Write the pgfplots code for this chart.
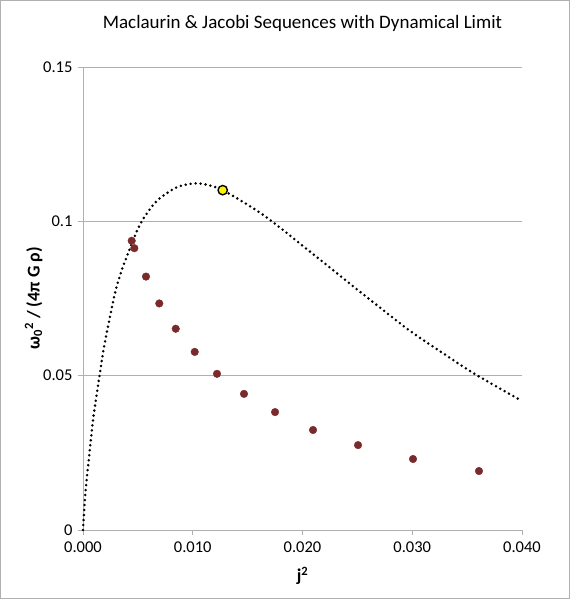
\documentclass[border=0pt]{standalone}
\usepackage{pgfplots}
\pgfplotsset{compat=1.18}
\usepackage{fontspec}
\setmainfont{Carlito}

\definecolor{jacobired}{HTML}{7A2A2A}
\definecolor{gridgray}{HTML}{B0B0B0}

% Maclaurin sequence
\pgfplotstableread{
x       y
0.00000 0.0000
0.00018 0.0103
0.00036 0.0173
0.00055 0.0237
0.00073 0.0297
0.00091 0.0356
0.00115 0.0416
0.00140 0.0475
0.00190 0.0590
0.00246 0.0691
0.00290 0.0765
0.00337 0.0825
0.00398 0.0885
0.00520 0.0990
0.00670 0.1065
0.00854 0.1110
0.01020 0.1123
0.01150 0.1117
0.01273 0.1101
0.01430 0.1069
0.01613 0.1028
0.01765 0.0988
0.02068 0.0902
0.02372 0.0815
0.02676 0.0729
0.02980 0.0645
0.03283 0.0572
0.03572 0.0505
0.04000 0.0418
}\maclaurin

% Jacobi sequence
\pgfplotstableread{
x       y
0.00444 0.0937
0.00468 0.0913
0.00574 0.0821
0.00695 0.0734
0.00845 0.0652
0.01018 0.0577
0.01221 0.0506
0.01467 0.0441
0.01750 0.0382
0.02096 0.0324
0.02506 0.0275
0.03007 0.0230
0.03608 0.0191
}\jacobi

\begin{document}
\begin{tikzpicture}
\begin{axis}[
    scale only axis,
    width=439pt, height=463pt,
    xmin=0, xmax=0.04,
    ymin=0, ymax=0.15,
    xtick={0,0.01,0.02,0.03,0.04},
    xticklabels={0.000,0.010,0.020,0.030,0.040},
    ytick={0,0.05,0.1,0.15},
    yticklabels={0,0.05,0.1,0.15},
    scaled ticks=false,
    axis x line*=bottom,
    axis y line*=left,
    axis line style={gridgray, line width=0.8pt, -},
    tick align=outside,
    major tick length=5pt,
    tick style={gridgray, line width=0.8pt},
    ymajorgrids=true,
    grid style={gridgray, line width=0.8pt},
    ticklabel style={font=\fontsize{16.5}{19}\selectfont, black},
    xticklabel style={yshift=-3pt},
    yticklabel style={xshift=-2pt},
    title={Maclaurin \& Jacobi Sequences with Dynamical Limit},
    title style={font=\fontsize{19}{22}\selectfont, yshift=26pt},
    xlabel={\textbf{j\textsuperscript{2}}},
    xlabel style={font=\fontsize{18}{21}\selectfont, yshift=-8pt},
    ylabel={\textbf{ω\textsubscript{0}\textsuperscript{2} / (4π G ρ)}},
    ylabel style={font=\fontsize{18}{21}\selectfont, yshift=-6pt},
    clip=false,
]
\addplot[black, line width=2.8pt, line cap=round,
    dash pattern=on 0pt off 5pt, smooth, tension=0.5]
    table[x=x, y=y] {\maclaurin};
\addplot[only marks, mark=*, mark size=3.8pt,
    mark options={draw=jacobired, fill=jacobired}]
    table[x=x, y=y] {\jacobi};
\addplot[only marks, mark=*, mark size=4.7pt,
    mark options={draw=black, fill=yellow, line width=1.4pt}]
    coordinates {(0.01273,0.1101)};
\end{axis}
\draw[gridgray, line width=0.8pt]
    ([shift={(-82.6pt,-68.6pt)}]current axis.south west)
    rectangle ([shift={(47.6pt,66.6pt)}]current axis.north east);
\end{tikzpicture}
\end{document}
